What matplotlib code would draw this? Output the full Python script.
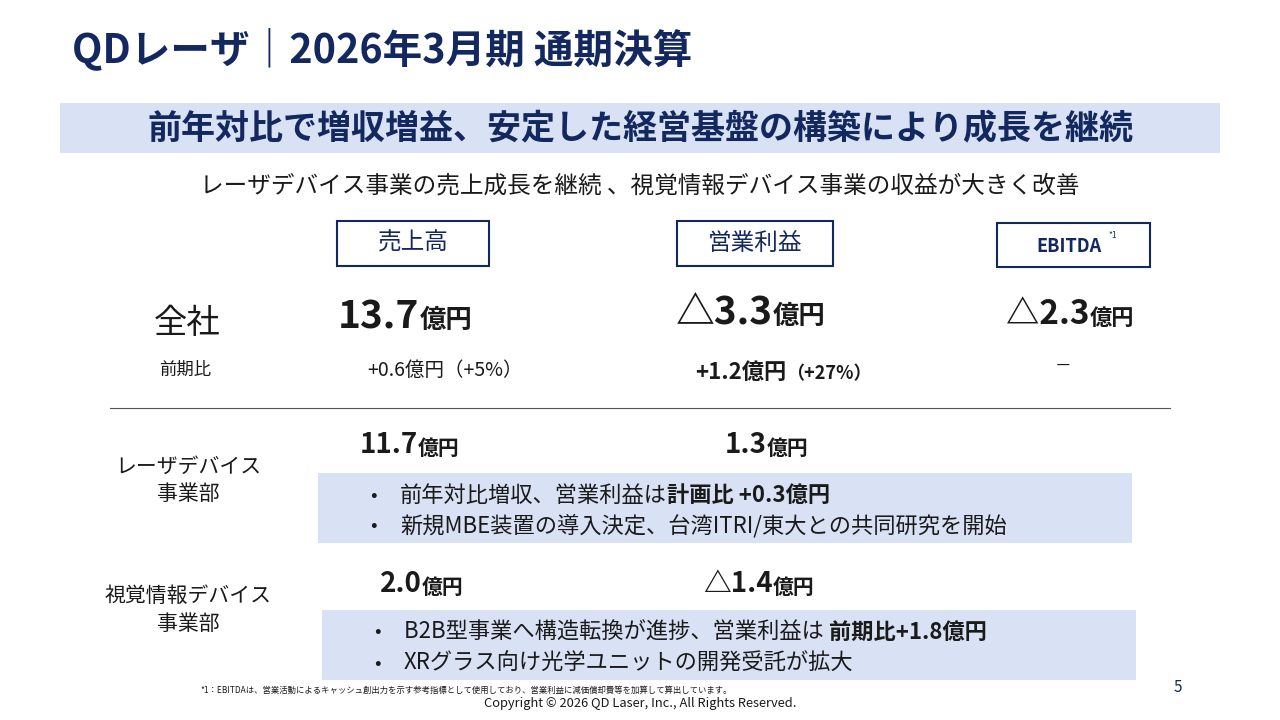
import matplotlib
matplotlib.use("Agg")
import matplotlib.pyplot as plt
from matplotlib.patches import Rectangle

plt.rcParams['font.family'] = ['Noto Sans CJK JP', 'DejaVu Sans']

NAVY = '#13285e'
BAND = '#d9e2f5'
DARK = '#1a1a1a'

metrics = ['売上高', '営業利益', 'EBITDA']
total_values = ['13.7', '△3.3', '△2.3']
total_yoy = ['+0.6億円（+5%）', '+1.2億円', '（+27%）', '－']
segments = ['レーザデバイス\n事業部', '視覚情報デバイス\n事業部']
seg_sales = ['11.7', '2.0']
seg_profit = ['1.3', '△1.4']
seg_notes = [
    [('前年対比増収、営業利益は', '計画比 +0.3億円'), ('新規MBE装置の導入決定、台湾ITRI/東大との共同研究を開始', '')],
    [('B2B型事業へ構造転換が進捗、営業利益は ', '前期比+1.8億円'), ('XRグラス向け光学ユニットの開発受託が拡大', '')],
]

fig = plt.figure(figsize=(12.8, 7.2), dpi=100)
ax = fig.add_axes([0, 0, 1, 1])
ax.set_xlim(0, 1280)
ax.set_ylim(720, 0)
ax.axis('off')

ax.text(72, 50, 'QDレーザ｜2026年3月期 通期決算', fontsize=28.5, fontweight='bold', color=NAVY, va='center')
ax.add_patch(Rectangle((60, 103), 1160, 50, color=BAND, lw=0))
ax.text(640, 129, '前年対比で増収増益、安定した経営基盤の構築により成長を継続', fontsize=24.5, fontweight='bold', color=NAVY, ha='center', va='center')
ax.text(640, 186, 'レーザデバイス事業の売上成長を継続 、視覚情報デバイス事業の収益が大きく改善', fontsize=17, color=DARK, ha='center', va='center')

boxes = [(337, 221, 152, 45), (677, 221, 156, 45), (997, 223, 153, 44)]
for (x, y, w, h), m in zip(boxes, metrics):
    ax.add_patch(Rectangle((x, y), w, h, fill=False, ec=NAVY, lw=1.5))
    if m == 'EBITDA':
        ax.text(x + w / 2 - 4, y + h / 2 + 1, m, fontsize=13, fontweight='bold', color=NAVY, ha='center', va='center')
        ax.text(x + w / 2 + 35, y + 12, '*1', fontsize=6, color=NAVY, va='center')
    else:
        ax.text(x + w / 2, y + h / 2, m, fontsize=17, color=NAVY, ha='center', va='center')

ax.text(187, 323, '全社', fontsize=24, color=DARK, ha='center', va='center')
ax.text(185, 370, '前期比', fontsize=12.5, color=DARK, ha='center', va='center')

def value(x, y, v, big, small):
    t = ax.text(x, y, v, fontsize=big, fontweight='bold', color=DARK, va='center')
    fig.canvas.draw()
    bb = t.get_window_extent()
    ax.text(x + bb.width, y + 3, '億円', fontsize=small, fontweight='bold', color=DARK, va='center')

value(338, 317, total_values[0], 28, 19)
value(676, 313, total_values[1], 28, 19)
value(1006, 315, total_values[2], 24, 16)

ax.text(367, 370, total_yoy[0], fontsize=14, color=DARK, va='center')
t = ax.text(695, 372, total_yoy[1], fontsize=16, fontweight='bold', color=DARK, va='center')
fig.canvas.draw()
ax.text(695 + t.get_window_extent().width, 374, total_yoy[2], fontsize=13, fontweight='bold', color=DARK, va='center')
ax.text(1063, 366, total_yoy[3], fontsize=12, color=DARK, ha='center', va='center')

ax.plot([110, 1170], [408, 408], color='#555555', lw=0.8)

seg_y = [445, 584]
label_y = [480, 610]
band_y = [473, 610]
for i in range(2):
    ax.text(188, label_y[i], segments[i], fontsize=15, color=DARK, ha='center', va='center', linespacing=1.3)
    value(360 if i == 0 else 380, seg_y[i], seg_sales[i], 20, 15)
    value(725 if i == 0 else 703, seg_y[i], seg_profit[i], 20, 15)
    bx = 318 if i == 0 else 322
    ax.add_patch(Rectangle((bx, band_y[i]), 814, 70, color=BAND, lw=0))
    for j, (a, b) in enumerate(seg_notes[i]):
        yy = band_y[i] + 22 + j * 31
        ax.text(bx + 52, yy, '•', fontsize=14, color=DARK, va='center')
        t = ax.text(bx + 82, yy, a, fontsize=16, color=DARK, va='center')
        if b:
            fig.canvas.draw()
            ax.text(bx + 82 + t.get_window_extent().width, yy, b, fontsize=16, fontweight='bold', color=DARK, va='center')

ax.text(200, 690, '*1：EBITDAは、営業活動によるキャッシュ創出力を示す参考指標として使用しており、営業利益に減価償却費等を加算して算出しています。', fontsize=6, color=DARK, va='center')
ax.text(640, 703, 'Copyright © 2026 QD Laser, Inc., All Rights Reserved.', fontsize=9.3, color=DARK, ha='center', va='center')
ax.text(1178, 688, '5', fontsize=11, color=NAVY, ha='center', va='center')

fig.savefig('out.png', dpi=100)
